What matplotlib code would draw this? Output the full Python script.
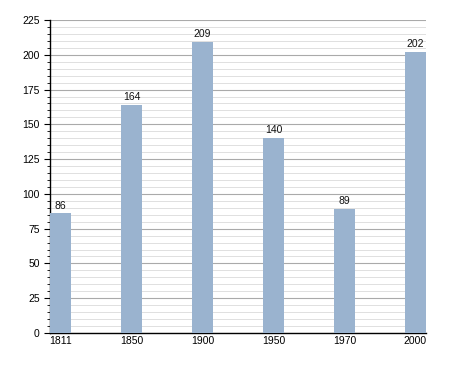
import matplotlib
matplotlib.use("Agg")
import matplotlib.pyplot as plt
from matplotlib.ticker import MultipleLocator

years = ["1811", "1850", "1900", "1950", "1970", "2000"]
population = [86, 164, 209, 140, 89, 202]

plt.rcParams['font.family'] = ['Liberation Sans', 'DejaVu Sans']

fig = plt.figure(figsize=(4.55, 3.73), dpi=100)
ax = fig.add_axes([50/455, 1-333/373, 376/455, 313/373])

x = list(range(len(years)))
ax.bar(x, population, width=0.3, color="#9ab3cf", zorder=3)
for xi, v in zip(x, population):
    ax.text(xi, v + 2, str(v), ha="center", va="bottom", fontsize=7.5, color="#111111", zorder=4)

ax.set_xlim(-0.15, len(years) - 1 + 0.15)
ax.set_ylim(0, 225)
ax.set_xticks(x)
ax.set_xticklabels(years, fontsize=7.5)
ax.yaxis.set_major_locator(MultipleLocator(25))
ax.yaxis.set_minor_locator(MultipleLocator(5))
ax.tick_params(axis="y", which="major", labelsize=7.5, length=4, width=0.8, direction="out")
ax.tick_params(axis="y", which="minor", length=2, width=0.6, direction="out")
ax.tick_params(axis="x", length=0, pad=2)
ax.grid(axis="y", which="major", color="#aaaaaa", linewidth=0.8, zorder=1)
ax.grid(axis="y", which="minor", color="#e0e0e0", linewidth=0.7, zorder=0)
for s in ["top", "right"]:
    ax.spines[s].set_visible(False)
ax.spines["left"].set_linewidth(1.0)
ax.spines["bottom"].set_linewidth(1.0)
ax.set_axisbelow(True)

fig.savefig("out.png", dpi=100)
